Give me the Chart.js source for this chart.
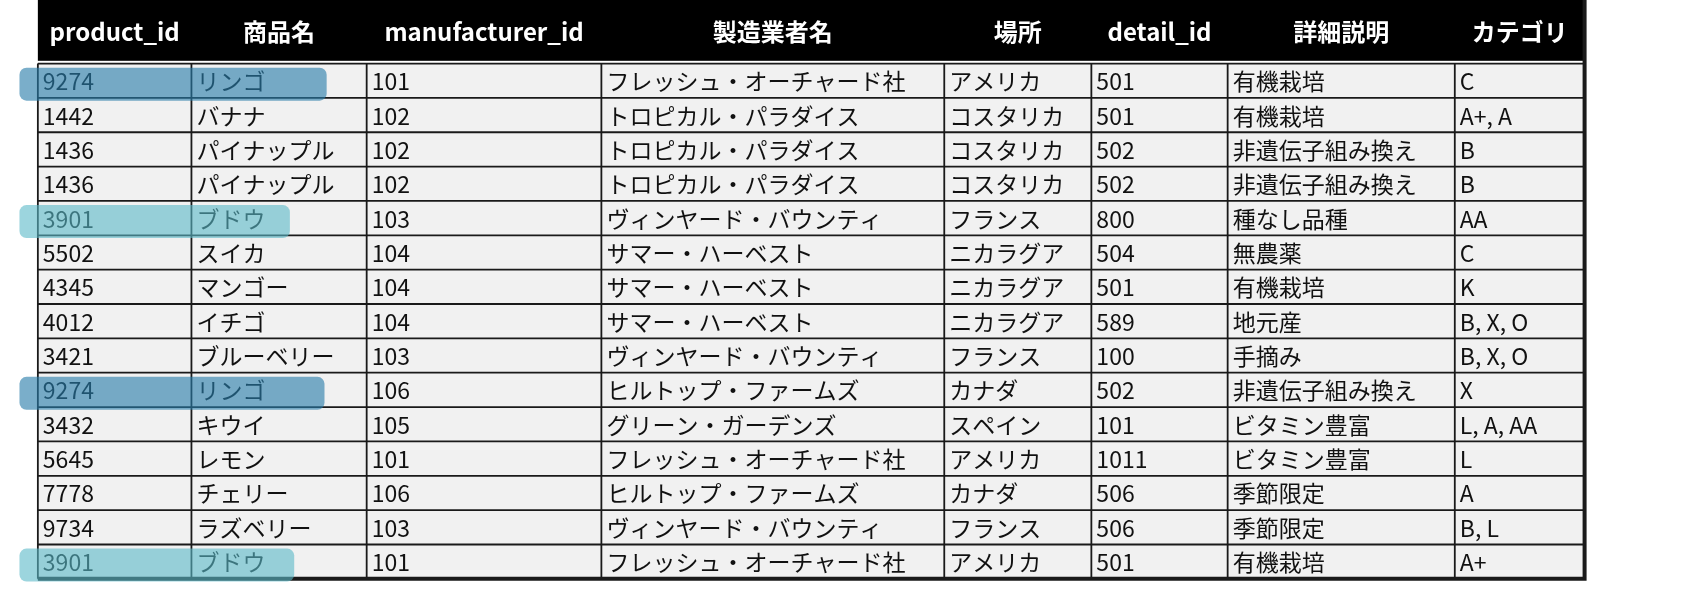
<!DOCTYPE html>
<html><head><meta charset="utf-8">
<script src="https://cdn.jsdelivr.net/npm/chart.js@4"></script>
<style>html,body{margin:0;padding:0;background:#fff}#c{display:block}</style>
</head><body>
<canvas id="c" width="1696" height="608"></canvas>
<script>
const headers = ["product_id","商品名","manufacturer_id","製造業者名","場所","detail_id","詳細説明","カテゴリ"];
const productIds = ["9274","1442","1436","1436","3901","5502","4345","4012","3421","9274","3432","5645","7778","9734","3901"];
const productNames = ["リンゴ","バナナ","パイナップル","パイナップル","ブドウ","スイカ","マンゴー","イチゴ","ブルーベリー","リンゴ","キウイ","レモン","チェリー","ラズベリー","ブドウ"];
const manufacturerIds = ["101","102","102","102","103","104","104","104","103","106","105","101","106","103","101"];
const manufacturerNames = ["フレッシュ・オーチャード社","トロピカル・パラダイス","トロピカル・パラダイス","トロピカル・パラダイス","ヴィンヤード・バウンティ","サマー・ハーベスト","サマー・ハーベスト","サマー・ハーベスト","ヴィンヤード・バウンティ","ヒルトップ・ファームズ","グリーン・ガーデンズ","フレッシュ・オーチャード社","ヒルトップ・ファームズ","ヴィンヤード・バウンティ","フレッシュ・オーチャード社"];
const places = ["アメリカ","コスタリカ","コスタリカ","コスタリカ","フランス","ニカラグア","ニカラグア","ニカラグア","フランス","カナダ","スペイン","アメリカ","カナダ","フランス","アメリカ"];
const detailIds = ["501","501","502","502","800","504","501","589","100","502","101","1011","506","506","501"];
const details = ["有機栽培","有機栽培","非遺伝子組み換え","非遺伝子組み換え","種なし品種","無農薬","有機栽培","地元産","手摘み","非遺伝子組み換え","ビタミン豊富","ビタミン豊富","季節限定","季節限定","有機栽培"];
const categories = ["C","A+, A","B","B","AA","C","K","B, X, O","B, X, O","X","L, A, AA","L","A","B, L","A+"];
const highlightRows = [0,4,9,14];

const columns = [productIds,productNames,manufacturerIds,manufacturerNames,places,detailIds,details,categories];
// layout (x scale units)
const colEdges = [35,177,339,556,873,1009,1135,1345,1465];
const hlRight = [302,268,300,272];
const hlColor = ["rgba(40,125,170,0.62)","rgba(90,185,200,0.6)","rgba(40,125,170,0.62)","rgba(90,185,200,0.6)"];
const HDR = 1.85;

const tablePlugin = {
  id:'table',
  afterDraw(chart){
    const ctx = chart.ctx, xs = chart.scales.x, ys = chart.scales.y;
    const X = v=>xs.getPixelForValue(v), Y = v=>ys.getPixelForValue(v);
    const n = productIds.length;
    ctx.save();
    ctx.fillStyle = "#000";
    ctx.fillRect(X(colEdges[0]), Y(-HDR), X(colEdges[8])-X(colEdges[0]), Y(-0.08)-Y(-HDR));
    ctx.fillStyle = "#fff";
    ctx.font = "bold 24px 'Noto Sans CJK JP','Noto Sans',sans-serif";
    ctx.textAlign = "center"; ctx.textBaseline = "middle";
    headers.forEach((h,i)=>ctx.fillText(h,(X(colEdges[i])+X(colEdges[i+1]))/2, Y(-HDR/2)));
    ctx.fillStyle = "#f1f1f1";
    ctx.fillRect(X(colEdges[0]), Y(0), X(colEdges[8])-X(colEdges[0]), Y(n)-Y(0));
    ctx.strokeStyle = "#1a1a1a"; ctx.lineWidth = 1.8;
    for(let r=0;r<=n;r++){ctx.beginPath();ctx.moveTo(X(colEdges[0]),Y(r));ctx.lineTo(X(colEdges[8]),Y(r));ctx.stroke();}
    colEdges.forEach(e=>{ctx.beginPath();ctx.moveTo(X(e),Y(0));ctx.lineTo(X(e),Y(n));ctx.stroke();});
    ctx.lineWidth = 4;
    ctx.beginPath();ctx.moveTo(X(colEdges[8]),Y(-HDR));ctx.lineTo(X(colEdges[8]),Y(n));ctx.lineTo(X(colEdges[0]),Y(n));ctx.stroke();
    ctx.fillStyle = "#111";
    ctx.font = "23px 'Noto Sans CJK JP','Noto Sans',sans-serif";
    ctx.textAlign = "left";
    columns.forEach((col,c)=>col.forEach((t,r)=>ctx.fillText(t, X(colEdges[c])+5, Y(r+0.52))));
    highlightRows.forEach((r,k)=>{
      ctx.fillStyle = hlColor[k];
      ctx.beginPath();
      ctx.roundRect(X(18), Y(r+0.12), X(hlRight[k])-X(18), Y(r+1.08)-Y(r+0.12), 7);
      ctx.fill();
    });
    ctx.restore();
  }
};

new Chart(document.getElementById('c'),{
  type:'scatter',
  data:{datasets:[{data:[]}]},
  options:{
    responsive:false, animation:false,
    layout:{padding:0},
    plugins:{legend:{display:false},tooltip:{enabled:false}},
    scales:{
      x:{type:'linear',min:0,max:1568,display:false},
      y:{type:'linear',reverse:true,min:-HDR,max:(562-58)/31.8,display:false}
    }
  },
  plugins:[tablePlugin]
});
</script>
</body></html>
